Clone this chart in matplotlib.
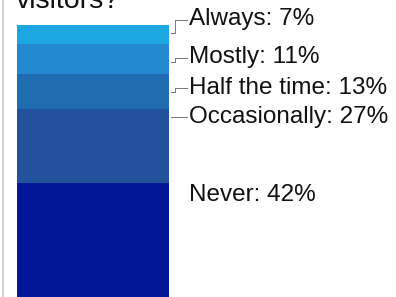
import matplotlib
matplotlib.use("Agg")
import matplotlib.pyplot as plt
import numpy as np

plt.rcParams["font.family"] = ["Liberation Sans", "DejaVu Sans"]

# data
kategorien = ["Always", "Mostly", "Half the time", "Occasionally", "Never"]
anteile = [7, 11, 13, 27, 42]
farben = ["#1DA7E0", "#2389CF", "#1F6CB0", "#23529C", "#021797"]

# layout (pixels, 396x297 canvas)
W, H = 396, 297
label_x = 189
label_y = [19.5, 57.5, 87.5, 117, 195]
leader_anchor = [33, 62, 92, 117, None]

fig = plt.figure(figsize=(W / 100, H / 100), dpi=100)

ax = fig.add_axes([17 / W, 0, 152 / W, 272 / H])
unten = np.concatenate([[0], np.cumsum(anteile)[:-1]])
ax.bar(0, anteile, bottom=unten, width=1.0, color=farben,
       edgecolor="none", align="center")
ax.set_xlim(-0.5, 0.5)
ax.set_ylim(100, 0)
ax.axis("off")

# overlay in pixel coordinates for title, labels, leader lines
ov = fig.add_axes([0, 0, 1, 1], facecolor="none")
ov.set_xlim(0, W)
ov.set_ylim(H, 0)
ov.axis("off")

ov.plot([2.5, 2.5], [0, H], color="#C8C8C8", lw=1.2)
ov.text(16, 8.5, "visitors?", fontsize=20.5, color="#111111",
        ha="left", va="baseline")

for name, wert, ly, ay in zip(kategorien, anteile, label_y, leader_anchor):
    ov.text(label_x, ly, f"{name}: {wert}%", fontsize=17.5, color="#111111",
            ha="left", va="center")
    if ay is not None:
        ov.plot([171, 175, 175, 187], [ay, ay, ly, ly],
                color="#777777", lw=0.7)

fig.savefig("out.png", dpi=100)
